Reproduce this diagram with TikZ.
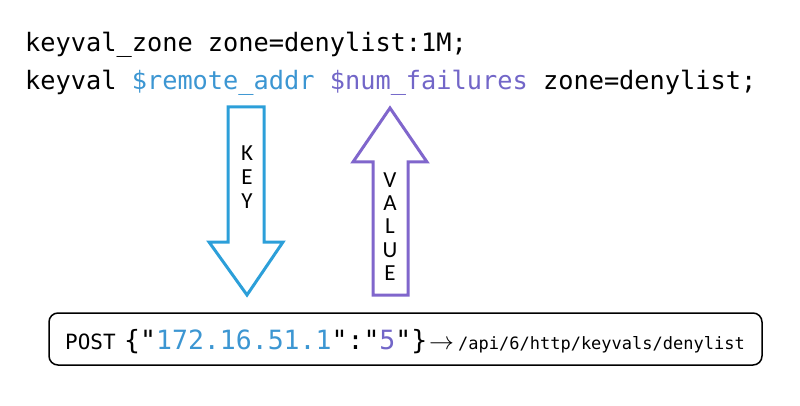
\documentclass[tikz,border=0pt]{standalone}
\usepackage{fontspec}
\setmainfont{Carlito}
\setmonofont{DejaVu Sans Mono}
\definecolor{keyblue}{HTML}{3C96D2}
\definecolor{keyedge}{HTML}{2C9FD9}
\definecolor{valpurple}{HTML}{7266C8}
\definecolor{valedge}{HTML}{8066CC}
\tikzset{
  code/.style={anchor=base west, inner sep=0pt, font=\ttfamily\fontsize{#1}{#1}\selectfont},
  letter/.style={inner sep=0pt, font=\fontsize{23}{23}\selectfont},
  blockarrow/.style={line width=3pt, draw=#1, fill=white, line join=miter}
}

\begin{document}
\begin{tikzpicture}[x=1pt,y=-1pt]
    \useasboundingbox (0,0) rectangle (800,406) ;
    % configuration lines
    \node[code=25.3] (zone) at (25,52) {keyval\_zone zone=denylist:1M;} ;
    \node[code=25.3] (keyval) at (25,90) {keyval
      \textcolor{keyblue}{\$remote\_addr}
      \textcolor{valpurple}{\$num\_failures} zone=denylist;} ;
    % key arrow, pointing down
    \draw[blockarrow=keyedge] (228,107) -- (264,107) -- (264,242) --
      (283,242) -- (247,295) -- (209,242) -- (228,242) -- cycle ;
    \foreach \l [count=\i] in {K,E,Y} {
      \node[letter] (key\i) at (247,129+24*\i) {\l} ;
    }
    % value arrow, pointing up
    \draw[blockarrow=valedge] (373,295) -- (408,295) -- (408,162) --
      (427,162) -- (390,108) -- (353,162) -- (373,162) -- cycle ;
    \foreach \l [count=\i] in {V,A,L,U,E} {
      \node[letter] (value\i) at (390,156.7+23.3*\i) {\l} ;
    }
    % api request
    \node[draw, line width=1.5pt, rounded corners=9pt, minimum width=713pt,
      minimum height=52pt, inner sep=0pt] (req) at (405.5,339) {} ;
    \node[code=21] (post) at (65,349) {POST} ;
    \node[code=26.5] (json) at (124,349) {\{"\textcolor{keyblue}{172.16.51.1}":"\textcolor{valpurple}{5}"\}} ;
    \node[anchor=base west, inner sep=0pt, font=\fontsize{23}{23}\selectfont]
      (to) at (429,349) {$\rightarrow$} ;
    \node[code=17] (url) at (458,349) {/api/6/http/keyvals/denylist} ;
\end{tikzpicture}
\end{document}
